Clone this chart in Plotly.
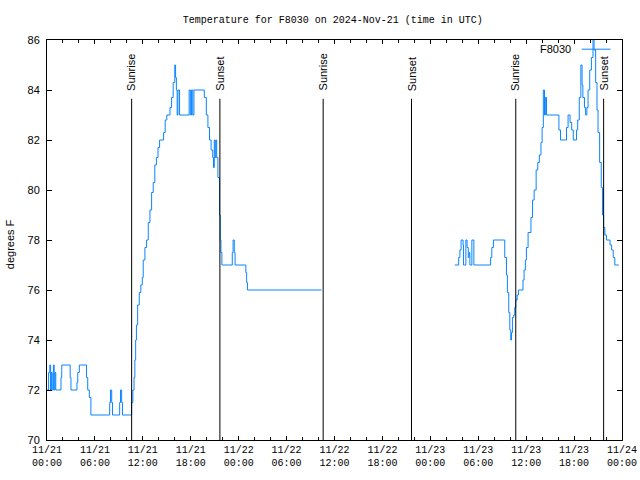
import pandas as pd
import plotly.graph_objects as go

# ---- data (hours after 2024-11-21 00:00 UTC, temperature in degrees F) ----
start = pd.Timestamp("2024-11-21 00:00")

hours = [
    0.0, 0.2, 0.35, 0.45, 0.55, 0.65, 0.8, 0.9, 1.0, 1.1,
    1.75, 1.85, 2.9, 3.0, 3.75, 3.85, 4.05, 4.95, 5.1, 5.3, 5.5,
    7.85, 7.95, 8.1, 8.2, 9.1, 9.2, 9.35, 9.45,
    10.6, 10.75, 10.9, 11.0, 11.1, 11.2, 11.35, 11.55, 11.75, 11.93,
    12.05, 12.26, 12.47, 12.68, 12.89, 13.1, 13.3, 13.5, 13.7, 13.9,
    14.1, 14.6, 14.8, 15.0, 15.4, 15.6, 15.8, 16.0, 16.1, 16.2, 16.3, 16.4, 16.6,
    17.8, 17.95, 18.1, 18.25, 18.4, 19.7, 19.95, 20.15, 20.35, 20.55, 20.75,
    20.85, 20.95, 21.05, 21.15, 21.25, 21.4, 21.6, 21.7, 21.78, 21.9,
    23.2, 23.3, 23.45, 23.55, 24.9, 25.0, 25.1, 34.38,
    40.0,
    51.06, 51.55, 51.7, 51.85, 52.1, 52.15, 52.45, 52.6, 52.75, 52.85, 52.95,
    53.2, 53.45, 55.55, 55.7, 55.9, 57.32, 57.53, 57.65, 57.82, 57.95, 58.07,
    58.16, 58.28, 58.45, 58.57, 58.7, 58.87, 59.03, 59.6, 59.74, 59.9, 60.03,
    60.24, 60.36, 60.6, 60.8, 61.0, 61.25, 61.45, 61.65, 61.85, 62.0, 62.15,
    62.3, 62.4, 62.55, 64.1, 64.3, 65.05, 65.25, 65.5, 65.7, 65.9, 66.3,
    66.45, 66.65, 66.85, 67.0, 67.1, 67.3, 67.45, 67.6, 67.75, 67.96, 68.17,
    68.37, 68.5, 68.7, 68.87, 69.0, 69.2, 69.4, 69.55, 69.7, 69.85, 70.05,
    70.5, 70.7, 70.9, 71.1, 71.6,
]

temps = [
    72, 72.7, 73, 72, 72.7, 72, 73, 72, 72.7, 72,
    72.5, 73, 72.5, 72, 72.3, 72.7, 73, 72.5, 72, 71.7, 71,
    71.5, 72, 71.5, 71, 71.5, 72, 71.5, 71,
    71.5, 72, 72.5, 73.2, 74, 74.6, 75.4, 75.9, 76.2, 76.5,
    77.2, 77.7, 78, 78.7, 79.2, 79.9, 80.3, 81, 81.3, 81.7,
    82, 82.3, 82.8, 83, 83.3, 83.7, 84.3, 85, 84.5, 84, 83, 84, 83,
    84, 83, 84, 83, 84, 83.7, 83, 82.5, 82, 81.6, 81.3,
    80.9, 82, 81.3, 82, 81.3, 80.5, 79, 78, 77.5, 77,
    77.5, 78, 77.5, 77, 76.7, 76.3, 76, 76,
    None,
    77, 77.3, 77.6, 78, 77.8, 77, 78, 77.7, 77.3, 77.5, 77,
    78, 77, 77.3, 77.7, 78, 77.3, 76.6, 75.9, 75.1, 74.4, 74.0,
    74.3, 74.9, 75, 75.3, 75.6, 75.8, 76, 76.4, 76.8, 77.2, 77.7,
    78.3, 78.3, 78.9, 79.6, 80, 80.8, 81.1, 81.4, 81.9, 82.5, 84,
    83, 83.7, 83, 82.4, 82, 82.5, 83, 82.7, 82.4, 82, 82.4,
    82.8, 83.7, 85.0, 84.2, 83.7, 83.3, 83.0, 83.3, 84, 84.8, 85.3,
    86, 85.6, 84.3, 83.2, 82.3, 81.1, 80.1, 79, 78.5, 78.2, 78,
    77.8, 77.6, 77.3, 77, 77,
]

sun_events = ["Sunrise", "Sunset", "Sunrise", "Sunset", "Sunrise", "Sunset"]
sun_hours = [10.6, 21.65, 34.58, 45.64, 58.7, 69.7]

y_ticks = [70, 72, 74, 76, 78, 80, 82, 84, 86]
series_name = "F8030"

# ---- figure ----
times = [start + pd.to_timedelta(h, unit="h") for h in hours]
sun_times = [start + pd.to_timedelta(h, unit="h") for h in sun_hours]

BLUE = "#0a84ff"
MONO = "Liberation Mono, DejaVu Sans Mono, monospace"
SANS = "Liberation Sans, Arial, sans-serif"

fig = go.Figure()
fig.add_trace(go.Scatter(
    x=times, y=temps, mode="lines", name=series_name,
    line=dict(color=BLUE, width=1, shape="hv"),
    connectgaps=False, showlegend=False, hoverinfo="skip",
))

for ev, t in zip(sun_events, sun_times):
    fig.add_shape(type="line", xref="x", yref="paper", x0=t, x1=t, y0=0, y1=0.853,
                  line=dict(color="black", width=1))
    fig.add_annotation(x=t, xref="x", y=0.868, yref="paper", text=ev, textangle=-90,
                       showarrow=False, xanchor="center", yanchor="bottom",
                       font=dict(family=SANS, size=11, color="black"))

# manual gnuplot-style key: text then sample line
fig.add_annotation(x=0.915, xref="paper", y=0.977, yref="paper", text=series_name,
                   showarrow=False, xanchor="right", yanchor="middle",
                   font=dict(family=SANS, size=11, color="black"))
fig.add_shape(type="line", xref="paper", yref="paper", x0=0.93, x1=0.98, y0=0.977, y1=0.977,
              line=dict(color=BLUE, width=1))

fig.add_annotation(x=-0.064, xref="paper", y=0.49, yref="paper", text="degrees F",
                   textangle=-90, showarrow=False, xanchor="center", yanchor="middle",
                   font=dict(family=SANS, size=11, color="black"))

fig.update_layout(
    width=640, height=480,
    margin=dict(l=47, r=18, t=40, b=40),
    paper_bgcolor="white", plot_bgcolor="white",
    title=dict(text="Temperature for F8030 on 2024-Nov-21 (time in UTC)",
               x=0.52, xanchor="center", y=0.96, yanchor="middle",
               font=dict(family=MONO, size=10, color="black")),
    showlegend=False,
)
fig.update_xaxes(
    type="date", automargin=False,
    range=[start, start + pd.Timedelta(hours=72)],
    dtick=6 * 3600 * 1000, tick0=start,
    tickformat="%m/%d<br>%H:%M",
    ticks="inside", ticklen=4, tickcolor="black",
    minor=dict(dtick=2 * 3600 * 1000, ticks="inside", ticklen=3, tickcolor="black"),
    showline=True, linecolor="black", linewidth=1, mirror="ticks",
    showgrid=False, zeroline=False,
    tickfont=dict(family=MONO, size=10, color="black"),
)
fig.update_yaxes(
    range=[70, 86], tickvals=y_ticks, automargin=False,
    ticks="inside", ticklen=5, tickcolor="black",
    showline=True, linecolor="black", linewidth=1, mirror="ticks",
    showgrid=False, zeroline=False,
    ticklabelstandoff=4,
    tickfont=dict(family=SANS, size=11, color="black"),
)

fig.write_html("out.html", config={"displayModeBar": False},
               post_script="document.body.style.margin='0';document.body.style.overflow='hidden';")
